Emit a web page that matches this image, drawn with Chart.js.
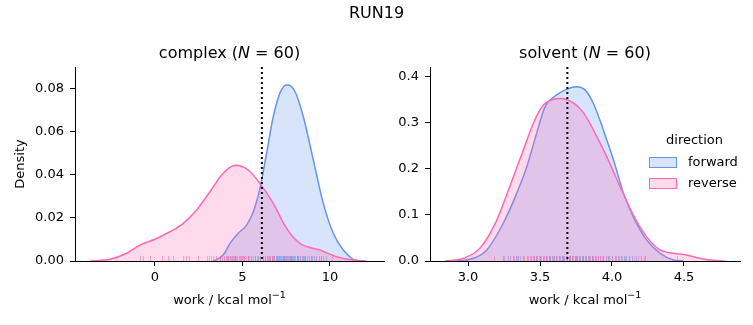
<!DOCTYPE html>
<html><head><meta charset="utf-8">
<script src="https://cdn.jsdelivr.net/npm/chart.js@4/dist/chart.umd.min.js"></script>
<style>
html,body{margin:0;padding:0;background:#fff;width:753px;height:325px;overflow:hidden;}
#sup{position:absolute;left:0;top:4px;width:753px;text-align:center;font:16px "DejaVu Sans";color:#000;line-height:18px;}
#c1{position:absolute;left:0;top:0;}
#c2{position:absolute;left:390px;top:0;}
</style></head><body>
<canvas id="c1" width="400" height="325"></canvas>
<canvas id="c2" width="363" height="325"></canvas>
<div id="sup">RUN19</div>
<script>
// ---- data ----
const seriesNames = ["forward", "reverse"];
const complexForwardWork    = [3.33, 3.90, 4.29, 4.76, 5.24, 5.62, 6.0, 6.38, 6.76, 7.14, 7.56, 8.0, 8.48, 9.05, 9.62, 10.19, 10.76, 11.33, 11.71];
const complexForwardDensity = [0, 0.0028, 0.0082, 0.0129, 0.0167, 0.0229, 0.0338, 0.0501, 0.0671, 0.078, 0.0819, 0.0788, 0.0671, 0.047, 0.0268, 0.0129, 0.0051, 0.0008, 0];
const complexReverseWork    = [-3.71, -2.57, -1.62, -0.86, 0, 0.86, 1.62, 2.38, 3.14, 3.90, 4.61, 5.33, 6.0, 6.76, 7.52, 8.29, 9.43, 10.38, 11.33, 12.1];
const complexReverseDensity = [0, 0.0008, 0.0036, 0.0074, 0.0101, 0.0136, 0.0175, 0.0237, 0.0322, 0.0408, 0.0445, 0.0423, 0.0361, 0.0268, 0.0152, 0.0082, 0.0051, 0.002, 0.0005, 0];
const solventForwardWork    = [2.875, 3.014, 3.13, 3.245, 3.338, 3.408, 3.477, 3.535, 3.616, 3.685, 3.748, 3.8125, 3.87, 3.94, 4.01, 4.08, 4.148, 4.24, 4.333, 4.426, 4.495];
const solventForwardDensity = [0, 0.0036, 0.024, 0.082, 0.147, 0.205, 0.278, 0.335, 0.361, 0.373, 0.379, 0.372, 0.343, 0.285, 0.22, 0.147, 0.096, 0.046, 0.017, 0.002, 0];
const solventReverseWork    = [2.84, 2.97, 3.083, 3.2, 3.29, 3.384, 3.453, 3.523, 3.58, 3.64, 3.73, 3.80, 3.87, 3.963, 4.056, 4.148, 4.24, 4.333, 4.426, 4.52, 4.61, 4.70, 4.78];
const solventReverseDensity = [0, 0.006, 0.028, 0.089, 0.162, 0.241, 0.299, 0.339, 0.350, 0.353, 0.344, 0.323, 0.285, 0.227, 0.162, 0.1, 0.053, 0.024, 0.017, 0.013, 0.006, 0.0015, 0];

const complexForwardRug = [3.7, 4.1, 4.4, 4.6, 4.9, 5.1, 5.3, 5.5, 5.7, 5.9, 6.0, 6.2, 6.3, 6.4, 6.5, 6.6, 6.7, 6.75, 6.8, 6.9, 6.95, 7.0, 7.05, 7.1, 7.15, 7.2, 7.25, 7.3, 7.35, 7.4, 7.45, 7.5, 7.55, 7.6, 7.65, 7.7, 7.75, 7.8, 7.85, 7.9, 7.95, 8.0, 8.1, 8.15, 8.2, 8.3, 8.4, 8.45, 8.5, 8.6, 8.7, 8.8, 8.9, 9.0, 9.1, 9.2, 9.35, 9.5, 9.6, 9.75];
const complexReverseRug = [-0.86, -0.7, -0.29, 0.38, 0.76, 1.05, 1.58, 1.77, 1.96, 2.48, 2.95, 3.09, 3.2, 3.33, 3.5, 3.7, 3.85, 3.95, 4.05, 4.15, 4.2, 4.3, 4.35, 4.45, 4.5, 4.6, 4.65, 4.7, 4.8, 4.85, 4.95, 5.05, 5.1, 5.2, 5.3, 5.4, 5.5, 5.6, 5.7, 5.85, 6.0, 6.2, 6.3, 6.45, 6.55, 6.7, 6.8, 6.95, 7.1, 7.3, 7.5, 7.7, 7.9, 8.1, 8.3, 8.6, 8.9, 9.2, 9.5, 10.1];
const solventForwardRug = [3.24, 3.28, 3.31, 3.33, 3.35, 3.38, 3.41, 3.44, 3.46, 3.47, 3.48, 3.5, 3.52, 3.54, 3.56, 3.57, 3.58, 3.6, 3.61, 3.63, 3.64, 3.65, 3.66, 3.67, 3.69, 3.7, 3.71, 3.72, 3.73, 3.74, 3.75, 3.76, 3.77, 3.78, 3.79, 3.8, 3.81, 3.82, 3.83, 3.84, 3.86, 3.87, 3.88, 3.9, 3.92, 3.94, 3.96, 3.97, 3.98, 4.0, 4.02, 4.04, 4.06, 4.08, 4.1, 4.12, 4.14, 4.17, 4.2, 4.23];
const solventReverseRug = [3.18, 3.25, 3.29, 3.32, 3.34, 3.36, 3.39, 3.42, 3.43, 3.45, 3.46, 3.47, 3.49, 3.5, 3.51, 3.53, 3.54, 3.55, 3.56, 3.57, 3.59, 3.6, 3.61, 3.62, 3.63, 3.65, 3.66, 3.68, 3.69, 3.7, 3.71, 3.72, 3.74, 3.75, 3.76, 3.77, 3.79, 3.8, 3.82, 3.84, 3.85, 3.86, 3.87, 3.89, 3.9, 3.92, 3.93, 3.94, 3.96, 3.98, 4.0, 4.03, 4.05, 4.07, 4.09, 4.12, 4.15, 4.18, 4.22, 4.45];

const complexMarker = 6.11;
const solventMarker = 3.69;
const complexXTicks = [0, 5, 10];
const complexYTicks = [0, 0.02, 0.04, 0.06, 0.08];
const solventXTicks = [3.0, 3.5, 4.0, 4.5];
const solventYTicks = [0, 0.1, 0.2, 0.3, 0.4];

// ---- styling ----
const FONT = '"DejaVu Sans"';
Chart.defaults.font.family = FONT;
Chart.defaults.color = '#000';
const BLUE = 'rgb(100,149,237)', BLUE_F = 'rgba(100,149,237,0.25)', BLUE_R = 'rgba(100,149,237,0.55)';
const PINK = 'rgb(255,105,180)', PINK_F = 'rgba(255,105,180,0.25)', PINK_R = 'rgba(255,105,180,0.55)';

function pts(xs, ys){ return xs.map((x,i)=>({x:x, y:ys[i]})); }
function ds(label, xs, ys, line, fill, order){
  return {label, data: pts(xs, ys), borderColor: line, backgroundColor: fill, borderWidth: 1.5,
    fill: 'origin', pointRadius: 0, cubicInterpolationMode: 'monotone', order};
}
function scales(xr, xt, xf, yr, yt, yf, yw){
  const grid = {drawOnChartArea:false, drawTicks:true, tickLength:5, color:'#000', lineWidth:1};
  const border = {display:true, color:'#000', width:1};
  return {
    x:{type:'linear', min:xr[0], max:xr[1], grid, border,
       afterBuildTicks:s=>{ s.ticks = xt.map(v=>({value:v})); },
       ticks:{callback:v=>xf(v), font:{size:13}, color:'#000', padding:4, maxRotation:0, autoSkip:false},
       afterFit:s=>{ s.height = 64; }},
    y:{type:'linear', min:yr[0], max:yr[1], grid, border,
       afterBuildTicks:s=>{ s.ticks = yt.map(v=>({value:v})); },
       ticks:{callback:v=>yf(v), font:{size:13}, color:'#000', padding:6, autoSkip:false},
       afterFit:s=>{ s.width = yw; }}
  };
}
function drawRich(ctx, parts, cx, cy){
  let w = 0;
  parts.forEach(p=>{ ctx.font = p[1]; w += ctx.measureText(p[0]).width; });
  let x = cx - w/2;
  ctx.textAlign = 'left'; ctx.textBaseline = 'middle'; ctx.fillStyle = '#000';
  parts.forEach(p=>{ ctx.font = p[1]; ctx.fillText(p[0], x, cy + (p[2]||0)); x += ctx.measureText(p[0]).width; });
}
function overlay(o){
  return {
    id:'overlay_'+o.name,
    afterDatasetsDraw(chart){
      const ctx = chart.ctx, a = chart.chartArea, xs = chart.scales.x;
      ctx.save();
      ctx.lineWidth = 1;
      [[o.rugF, BLUE_R], [o.rugR, PINK_R]].forEach(([arr, col])=>{
        ctx.strokeStyle = col;
        arr.forEach(v=>{
          const px = Math.round(xs.getPixelForValue(v)) + 0.5;
          ctx.beginPath(); ctx.moveTo(px, a.bottom); ctx.lineTo(px, a.bottom - 5); ctx.stroke();
        });
      });
      const mx = xs.getPixelForValue(o.marker);
      ctx.strokeStyle = '#000'; ctx.lineWidth = 2; ctx.setLineDash([2, 3]);
      ctx.beginPath(); ctx.moveTo(mx, a.top); ctx.lineTo(mx, a.bottom); ctx.stroke();
      ctx.restore();
    },
    afterDraw(chart){
      const ctx = chart.ctx, a = chart.chartArea;
      const cx = (a.left + a.right)/2;
      ctx.save();
      drawRich(ctx, [[o.title + ' (', '16px '+FONT], ['N', 'italic 16px '+FONT], [' = 60)', '16px '+FONT]], cx, 54);
      drawRich(ctx, [['work / kcal mol', '13px '+FONT], ['\u22121', '9.5px '+FONT, -5]], cx, 301);
      if (o.ylabel){
        ctx.translate(21, (a.top + a.bottom)/2); ctx.rotate(-Math.PI/2);
        ctx.font = '13px '+FONT; ctx.textAlign = 'center'; ctx.textBaseline = 'middle'; ctx.fillStyle = '#000';
        ctx.fillText(o.ylabel, 0, 0);
        ctx.setTransform(1,0,0,1,0,0);
      }
      if (o.legend){
        const L = o.legend;
        ctx.font = '13px '+FONT; ctx.textAlign = 'center'; ctx.textBaseline = 'middle'; ctx.fillStyle = '#000';
        ctx.fillText('direction', L.x + 45.5, L.y);
        [[seriesNames[0], BLUE, BLUE_F], [seriesNames[1], PINK, PINK_F]].forEach(([nm, lc, fc], i)=>{
          const by = L.y + 16 + i*21;
          ctx.fillStyle = fc; ctx.fillRect(L.x, by, 27, 10);
          ctx.strokeStyle = lc; ctx.lineWidth = 1; ctx.strokeRect(L.x + 0.5, by + 0.5, 27, 10);
          ctx.fillStyle = '#000'; ctx.textAlign = 'left';
          ctx.fillText(nm, L.x + 39, by + 5.5);
        });
      }
      ctx.restore();
    }
  };
}
const common = {responsive:false, animation:false, events:[],
  plugins:{legend:{display:false}, tooltip:{enabled:false}}};

new Chart(document.getElementById('c1'), {
  type:'line',
  data:{datasets:[ds('forward', complexForwardWork, complexForwardDensity, BLUE, BLUE_F, 2),
                  ds('reverse', complexReverseWork, complexReverseDensity, PINK, PINK_F, 1)]},
  options:Object.assign({}, common, {
    layout:{padding:{left:0, top:67, right:16, bottom:0}},
    scales:scales([-4.57, 13.09], complexXTicks, v=>String(v), [0, 0.0902], complexYTicks, v=>v.toFixed(2), 75)
  }),
  plugins:[overlay({name:'c', title:'complex', rugF:complexForwardRug, rugR:complexReverseRug, marker:complexMarker, ylabel:'Density'})]
});
new Chart(document.getElementById('c2'), {
  type:'line',
  data:{datasets:[ds('forward', solventForwardWork, solventForwardDensity, BLUE, BLUE_F, 2),
                  ds('reverse', solventReverseWork, solventReverseDensity, PINK, PINK_F, 1)]},
  options:Object.assign({}, common, {
    layout:{padding:{left:0, top:67, right:13, bottom:0}},
    scales:scales([2.736, 4.889], solventXTicks, v=>v.toFixed(1), [0, 0.4217], solventYTicks, v=>v.toFixed(1), 40)
  }),
  plugins:[overlay({name:'s', title:'solvent', rugF:solventForwardRug, rugR:solventReverseRug, marker:solventMarker, legend:{x:259, y:141}})]
});
</script>
</body></html>
